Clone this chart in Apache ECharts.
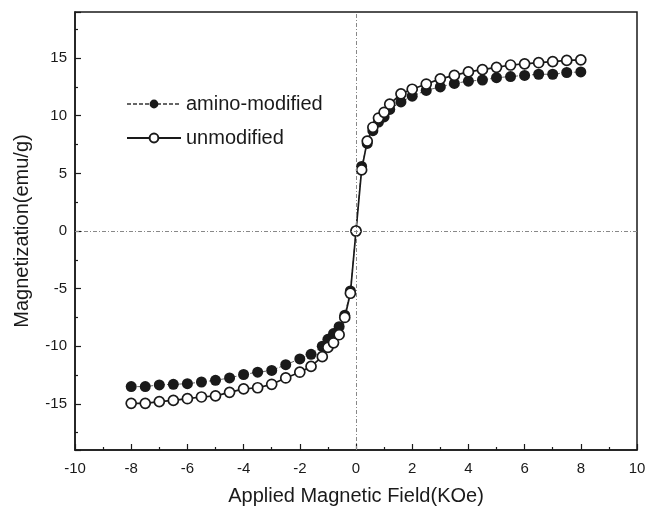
<!DOCTYPE html>
<html>
<head>
<meta charset="utf-8">
<script src="https://cdn.jsdelivr.net/npm/echarts@6/dist/echarts.min.js"></script>
<style>
  html, body { margin: 0; padding: 0; background: #fff; }
  #chart { width: 649px; height: 508px; }
</style>
</head>
<body>
<div id="chart"></div>
<script>
// applied field (KOe), shared by both samples
const field = [-8, -7.5, -7, -6.5, -6, -5.5, -5, -4.5, -4, -3.5, -3, -2.5, -2, -1.6, -1.2, -1, -0.8, -0.6, -0.4, -0.2,
  0, 0.2, 0.4, 0.6, 0.8, 1, 1.2, 1.6, 2, 2.5, 3, 3.5, 4, 4.5, 5, 5.5, 6, 6.5, 7, 7.5, 8]
// magnetization (emu/g)
const aminoModified = [-13.5, -13.5, -13.35, -13.3, -13.25, -13.1, -12.95, -12.75, -12.45, -12.25, -12.1, -11.6, -11.1, -10.7, -10.0, -9.4, -8.9, -8.3, -7.3, -5.2,
  0, 5.6, 7.6, 8.7, 9.45, 9.9, 10.55, 11.2, 11.7, 12.2, 12.5, 12.8, 13.0, 13.1, 13.3, 13.4, 13.5, 13.6, 13.6, 13.75, 13.8]
const unmodified = [-14.95, -14.95, -14.8, -14.7, -14.55, -14.4, -14.3, -14.0, -13.7, -13.6, -13.3, -12.75, -12.25, -11.75, -10.9, -10.1, -9.7, -9.0, -7.5, -5.4,
  0, 5.3, 7.8, 9.0, 9.8, 10.3, 11.0, 11.9, 12.3, 12.75, 13.2, 13.5, 13.8, 14.0, 14.2, 14.4, 14.5, 14.6, 14.7, 14.8, 14.85]

const pair = (ys) => field.map((x, i) => [x, ys[i]])
const font = 'Liberation Sans, Arial, sans-serif'
const ink = '#1a1a1a'

const chart = echarts.init(document.getElementById('chart'))
chart.setOption({
  animation: false,
  backgroundColor: '#fff',
  textStyle: { fontFamily: font, color: ink },
  grid: {
    left: 75, top: 12, width: 562, height: 438,
    containLabel: false,
    outerBoundsMode: 'none',
    show: true, borderColor: ink, borderWidth: 1.5, backgroundColor: 'transparent'
  },
  legend: {
    orient: 'vertical',
    left: 121,
    top: 89,
    itemWidth: 54,
    itemHeight: 11,
    itemGap: 14,
    textStyle: { fontSize: 20, color: ink, fontFamily: font },
    data: ['amino-modified', 'unmodified']
  },
  xAxis: {
    type: 'value',
    min: -10,
    max: 10,
    interval: 2,
    name: 'Applied Magnetic Field(KOe)',
    nameLocation: 'middle',
    nameGap: 36,
    nameTextStyle: { fontSize: 20, color: ink, fontFamily: font },
    axisLine: { onZero: false, lineStyle: { color: ink, width: 1.5 } },
    axisTick: { inside: true, length: 6, lineStyle: { color: ink, width: 1.2 } },
    minorTick: { show: true, splitNumber: 2, length: 3, lineStyle: { color: ink, width: 1.2 } },
    axisLabel: { fontSize: 15, color: ink, margin: 11, fontFamily: font },
    splitLine: { show: false }
  },
  yAxis: {
    type: 'value',
    min: -19,
    max: 19,
    splitNumber: 8,
    name: 'Magnetization(emu/g)',
    nameLocation: 'middle',
    nameGap: 43,
    nameTextStyle: { fontSize: 20, color: ink, fontFamily: font },
    axisLine: { show: true, onZero: false, lineStyle: { color: ink, width: 1.5 } },
    axisTick: { show: true, inside: true, length: 6, lineStyle: { color: ink, width: 1.2 } },
    minorTick: { show: true, splitNumber: 2, length: 3, lineStyle: { color: ink, width: 1.2 } },
    axisLabel: { fontSize: 15, color: ink, margin: 8, fontFamily: font, showMinLabel: false, showMaxLabel: false },
    splitLine: { show: false }
  },
  series: [
    {
      name: 'amino-modified',
      type: 'line',
      data: pair(aminoModified),
      symbol: 'circle',
      symbolSize: 11,
      itemStyle: { color: ink, borderColor: ink, borderWidth: 0 },
      lineStyle: { color: '#666', width: 1, type: [4, 2] },
      z: 2,
      markLine: {
        silent: true,
        symbol: 'none',
        label: { show: false },
        lineStyle: { color: '#888', width: 1, type: [4, 2, 1, 2] },
        data: [{ xAxis: 0 }, { yAxis: 0 }]
      }
    },
    {
      name: 'unmodified',
      type: 'line',
      data: pair(unmodified),
      symbol: 'circle',
      symbolSize: 10,
      itemStyle: { color: '#fff', borderColor: ink, borderWidth: 1.7 },
      lineStyle: { color: ink, width: 1.7 },
      z: 3
    }
  ]
})
</script>
</body>
</html>
